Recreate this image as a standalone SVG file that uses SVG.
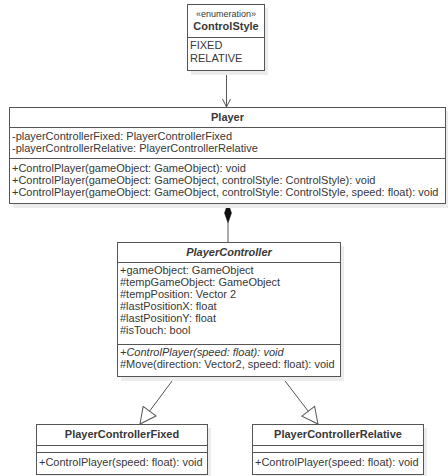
<svg xmlns="http://www.w3.org/2000/svg" width="448" height="476" viewBox="0 0 448 476">
<style>
.box{fill:#fff;stroke:#555;stroke-width:1}
.sh{fill:#ececec}
.div{stroke:#555;stroke-width:1}
text{font-family:"Liberation Sans",Arial,sans-serif;font-size:11px;fill:#383838}
.t{font-weight:bold;text-anchor:middle}
.st{font-size:9px;text-anchor:middle}
.i{font-style:italic}
.ln{stroke:#555;stroke-width:1;fill:none}
</style>
<defs>
<marker id="open" markerWidth="10" markerHeight="10" refX="9" refY="5" orient="auto" markerUnits="userSpaceOnUse">
<path d="M1,1 L9,5 L1,9" fill="none" stroke="#555" stroke-width="1"/>
</marker>
<marker id="tri" markerWidth="18" markerHeight="18" refX="17" refY="9" orient="auto" markerUnits="userSpaceOnUse">
<path d="M1,1 L17,9 L1,17 Z" fill="#fff" stroke="#555" stroke-width="1"/>
</marker>
</defs>
<g id="connectors">
<line class="ln" x1="226.5" y1="70" x2="226.5" y2="107" marker-end="url(#open)"/>
<line class="ln" x1="228" y1="223" x2="228" y2="242"/>
<path d="M228,203 L231.5,213 L228,223 L224.5,213 Z" fill="#111" stroke="#111" stroke-width="0.5"/>
<line class="ln" x1="175" y1="377" x2="140" y2="424" marker-end="url(#tri)"/>
<line class="ln" x1="282" y1="377" x2="318" y2="424" marker-end="url(#tri)"/>
</g>
<g id="ControlStyle">
<rect class="sh" x="191" y="8" width="77" height="67"/>
<rect class="box" x="187.5" y="4.5" width="77" height="66"/>
<line class="div" x1="187.5" y1="37.5" x2="264.5" y2="37.5"/>
<text class="st" x="226" y="17">«enumeration»</text>
<text class="t" x="226" y="30">ControlStyle</text>
<text x="190" y="49">FIXED</text>
<text x="190" y="62">RELATIVE</text>
</g>
<g id="Player">
<rect class="sh" x="13" y="111" width="436" height="97"/>
<rect class="box" x="9.5" y="107.5" width="436" height="96"/>
<line class="div" x1="9.5" y1="127.5" x2="445.5" y2="127.5"/>
<line class="div" x1="9.5" y1="158.5" x2="445.5" y2="158.5"/>
<text class="t" x="227.5" y="121">Player</text>
<text x="12" y="140">-playerControllerFixed: PlayerControllerFixed</text>
<text x="12" y="152">-playerControllerRelative: PlayerControllerRelative</text>
<text x="12" y="172">+ControlPlayer(gameObject: GameObject): void</text>
<text x="12" y="184">+ControlPlayer(gameObject: GameObject, controlStyle: ControlStyle): void</text>
<text x="12" y="196">+ControlPlayer(gameObject: GameObject, controlStyle: ControlStyle, speed: float): void</text>
</g>
<g id="PlayerController">
<rect class="sh" x="121" y="246" width="223" height="135"/>
<rect class="box" x="117.5" y="242.5" width="223" height="134"/>
<line class="div" x1="117.5" y1="262.5" x2="340.5" y2="262.5"/>
<line class="div" x1="117.5" y1="344.5" x2="340.5" y2="344.5"/>
<text class="t i" x="229" y="256">PlayerController</text>
<text x="120" y="274">+gameObject: GameObject</text>
<text x="120" y="286">#tempGameObject: GameObject</text>
<text x="120" y="298">#tempPosition: Vector 2</text>
<text x="120" y="310">#lastPositionX: float</text>
<text x="120" y="322">#lastPositionY: float</text>
<text x="120" y="334">#isTouch: bool</text>
<text class="i" x="120" y="356">+ControlPlayer(speed: float): void</text>
<text x="120" y="368">#Move(direction: Vector2, speed: float): void</text>
</g>
<g id="PlayerControllerFixed">
<rect class="sh" x="40" y="428" width="171" height="50"/>
<rect class="box" x="36.5" y="424.5" width="171" height="50"/>
<line class="div" x1="36.5" y1="445.5" x2="207.5" y2="445.5"/>
<line class="div" x1="36.5" y1="452.5" x2="207.5" y2="452.5"/>
<text class="t" x="122" y="438">PlayerControllerFixed</text>
<text x="39" y="466">+ControlPlayer(speed: float): void</text>
</g>
<g id="PlayerControllerRelative">
<rect class="sh" x="256" y="428" width="171" height="50"/>
<rect class="box" x="252.5" y="424.5" width="171" height="50"/>
<line class="div" x1="252.5" y1="445.5" x2="423.5" y2="445.5"/>
<line class="div" x1="252.5" y1="452.5" x2="423.5" y2="452.5"/>
<text class="t" x="338" y="438">PlayerControllerRelative</text>
<text x="255" y="466">+ControlPlayer(speed: float): void</text>
</g>
</svg>
